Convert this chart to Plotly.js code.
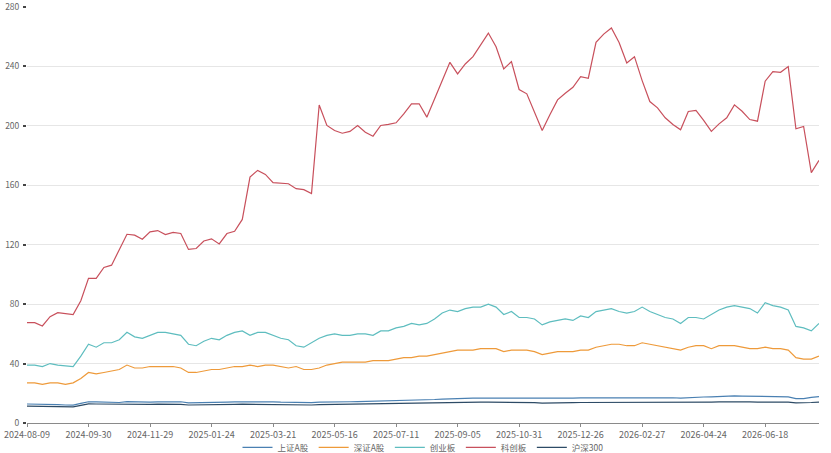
<!DOCTYPE html>
<html>
<head>
<meta charset="utf-8">
<script src="https://cdn.plot.ly/plotly-3.0.1.min.js"></script>
<style>html,body{margin:0;padding:0;background:#fff;}#chart{width:831px;height:453px;}</style>
</head>
<body>
<div id="chart"></div>
<script>
// Weekly points (index), labels shown every 8th point
const tickIndex = [0, 8, 16, 24, 32, 40, 48, 56, 64, 72, 80, 88, 96];
const tickLabels = ["2024-08-09","2024-09-30","2024-11-29","2025-01-24","2025-03-21","2025-05-16","2025-07-11","2025-09-05","2025-10-31","2025-12-26","2026-02-27","2026-04-24","2026-06-18"];

const seriesNames = ["上证A股", "深证A股", "创业板", "科创板", "沪深300"];

const shA = [12.8,12.8,12.6,12.5,12.3,12.1,12.0,13.2,14.3,14.2,14.0,13.9,13.8,14.4,14.2,13.9,14.1,14.2,14.2,14.3,14.3,13.6,13.6,13.8,13.9,13.9,14.0,14.2,14.3,14.2,14.3,14.3,14.2,14.0,13.9,13.6,13.5,13.7,14.0,14.2,14.3,14.3,14.3,14.4,14.5,14.5,14.7,14.8,15.0,15.2,15.4,15.4,15.5,15.8,16.1,16.4,16.4,16.6,16.7,16.7,16.8,16.8,16.5,16.7,16.6,16.6,16.6,16.3,16.5,16.6,16.7,16.7,16.9,16.9,17.2,17.3,17.4,17.3,17.2,17.2,17.4,17.3,17.1,17.0,17.0,16.8,17.2,17.4,17.5,17.6,17.9,18.1,18.2,18.1,18.0,17.8,18.0,17.9,17.8,17.6,16.4,16.4,17.2,17.8];

const szA = [27,27,26,27,27,26,27,30,34,33,34,35,36,39,37,37,38,38,38,38,37,34,34,35,36,36,37,38,38,39,38,39,39,38,37,38,36,36,37,39,40,41,41,41,41,42,42,42,43,44,44,45,45,46,47,48,49,49,49,50,50,50,48,49,49,49,48,46,47,48,48,48,49,49,51,52,53,53,52,52,54,53,52,51,50,49,51,52,52,50,52,52,52,51,50,50,51,50,50,49,44,43,43,45];

const cyb = [39,39,38,40,39,38.5,38,45,53,51,54,54,56,61,58,57,59,61,61,60,59,53,52,55,57,56,59,61,62,59,61,61,59,57,56,52,51,54,57,59,60,59,59,60,60,59,62,62,64,65,67,66,67,70,74,76,75,77,78,78,80,78,73,75,71,71,70,66,68,69,70,69,72,71,75,76,77,75,74,75,78,75,73,71,70,67,71,71,70,73,76,78,79,78,77,74,81,79,78,76,65,64,62,67];

const kcb = [67.5,67.5,65.3,71.5,74.2,73.4,72.9,82.3,97.3,97.3,104.7,106.2,116.3,127.0,126.4,123.7,128.6,129.5,126.8,128.2,127.5,116.8,117.4,122.5,123.9,120.5,127.5,129,137,165.5,170,167.3,161.7,161.5,161,157.7,157,154.4,214,200.2,196.8,195,196.2,200.2,195.7,193,200.2,200.9,202,208,214.8,214.8,205.8,218,230.8,242.7,234.9,241.6,246.5,254.6,262.4,253.2,238.2,243.2,224.4,221.5,209.1,196.8,207.4,217.4,221.9,225.9,233.1,232,256.1,261.7,265.8,256,242.3,246.5,230.4,216.3,212.1,205.4,200.9,197.3,209.6,210.3,203.6,196.2,201.3,205.4,214.1,209.8,204.2,203.1,230,236.4,236,239.8,198,199.5,168.5,176.7];

const hs300 = [11.3,11.3,11.2,11.1,11.0,10.9,10.8,11.9,12.9,12.8,12.7,12.6,12.5,12.9,12.7,12.5,12.6,12.7,12.7,12.7,12.6,12.1,12.1,12.3,12.4,12.4,12.5,12.6,12.7,12.6,12.7,12.7,12.6,12.4,12.3,12.0,11.9,12.1,12.3,12.4,12.5,12.5,12.5,12.6,12.6,12.6,12.8,12.9,13.0,13.1,13.3,13.3,13.3,13.5,13.7,13.8,13.8,13.9,14.0,14.0,14.0,14.0,13.7,13.8,13.7,13.7,13.7,13.4,13.6,13.7,13.7,13.7,13.8,13.8,14.0,14.1,14.1,14.0,14.0,14.0,14.1,14.0,13.9,13.8,13.8,13.6,13.9,14.0,14.0,14.1,14.2,14.3,14.4,14.3,14.2,14.1,14.2,14.2,14.1,14.0,13.5,13.5,13.8,14.1];

const allSeries = [shA, szA, cyb, kcb, hs300];
const colors = ["#4a80b2", "#ee9a3a", "#5ebdbf", "#c8505c", "#2d4b66"];

const traces = allSeries.map((vals, k) => ({
  type: "scatter",
  mode: "lines",
  name: seriesNames[k],
  x: vals.map((_, i) => i),
  y: vals,
  line: {color: colors[k], width: 1.2, shape: "linear"},
  hoverinfo: "x+y+name"
}));

const font = "'Noto Sans CJK SC', 'Noto Sans', sans-serif";

const layout = {
  width: 831,
  height: 453,
  margin: {l: 27, r: 12, t: 6, b: 30, pad: 0, autoexpand: false},
  paper_bgcolor: "#ffffff",
  plot_bgcolor: "#ffffff",
  font: {family: font, size: 9, color: "#666"},
  showlegend: true,
  legend: {
    orientation: "h",
    x: 0.5, xanchor: "center",
    y: -0.0585, yanchor: "middle",
    font: {family: font, size: 8.5, color: "#666"},
    itemwidth: 30,
    traceorder: "normal",
    bgcolor: "rgba(0,0,0,0)"
  },
  xaxis: {
    type: "linear",
    range: [0, 103],
    tickmode: "array",
    tickvals: tickIndex,
    ticktext: tickLabels,
    showgrid: false,
    zeroline: false,
    showline: true,
    linecolor: "#8a8a8a",
    linewidth: 1,
    ticks: "outside",
    ticklen: 3,
    tickcolor: "#8a8a8a",
    ticklabelstandoff: 0,
    tickfont: {family: font, size: 9, color: "#666"},
    automargin: false,
    fixedrange: true
  },
  yaxis: {
    range: [0, 280.6],
    tick0: 0,
    dtick: 40,
    showgrid: true,
    gridcolor: "#e6e6e6",
    gridwidth: 1,
    zeroline: false,
    showline: false,
    ticks: "outside",
    ticklen: 3,
    tickwidth: 2,
    tickcolor: "#444",
    ticklabelstandoff: 2,
    ticklabeloverflow: "allow",
    tickfont: {family: font, size: 8.5, color: "#666"},
    automargin: false,
    fixedrange: true
  }
};

Plotly.newPlot("chart", traces, layout, {displayModeBar: false});
</script>
</body>
</html>
